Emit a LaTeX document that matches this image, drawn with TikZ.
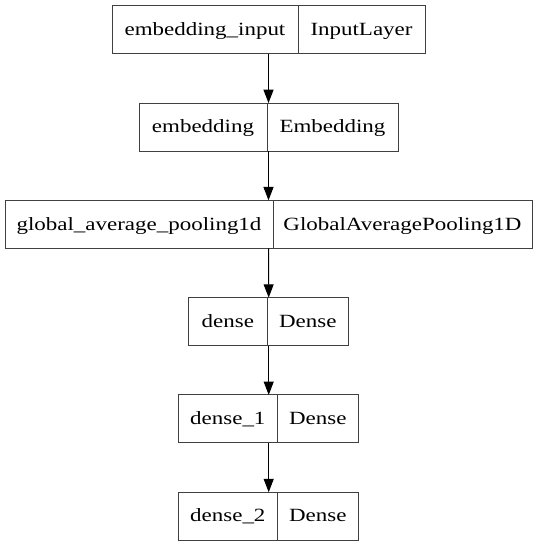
\documentclass[tikz,border=0pt]{standalone}
\usepackage{fontspec}
\setmainfont[FakeStretch=1.23]{Liberation Serif}
\usetikzlibrary{arrows.meta}
\definecolor{boxgray}{HTML}{404040}
\newcommand\mylayer[7]{%
  \pgfmathsetmacro\wl{(#3-#2)*0.75}%
  \pgfmathsetmacro\wr{(#4-#3)*0.75}%
  \pgfmathsetmacro\wt{(#4-#2)*0.75}%
  \node[whole, minimum width=\wt pt] (#1) at ({(#2+#4)/2},#5) {};
  \node[cell, minimum width=\wl pt] (#1a) at ({(#2+#3)/2},#5) {#6};
  \node[cell, minimum width=\wr pt] (#1b) at ({(#3+#4)/2},#5) {#7};
}
\begin{document}
\begin{tikzpicture}[x=0.75pt,y=-0.75pt,
  whole/.style={inner sep=0pt, outer sep=0pt, minimum height=36pt},
  cell/.style={draw=boxgray, line width=0.75pt, rectangle, inner sep=0pt, outer sep=0pt,
    minimum height=36pt, text height=11pt, text depth=2.4pt,
    font=\fontsize{14}{16}\selectfont},
  arr/.style={-{Triangle[length=10pt,width=7.5pt]}, line width=0.75pt, black}]
\useasboundingbox (0,0) rectangle (537,547);
\mylayer{l1}{112}{298}{425}{29.7}{embedding\_input}{InputLayer}
\mylayer{l2}{139}{267}{398}{127}{embedding}{Embedding}
\mylayer{l3}{5}{273}{532}{224.3}{global\_average\_pooling1d}{GlobalAveragePooling1D}
\mylayer{l4}{188.7}{267}{348.7}{321.6}{dense}{Dense}
\mylayer{l5}{178.7}{277}{358.7}{418.9}{dense\_1}{Dense}
\mylayer{l6}{178.7}{277}{358.7}{516.2}{dense\_2}{Dense}
\draw[arr] (l1.south) -- (l2.north);
\draw[arr] (l2.south) -- (l3.north);
\draw[arr] (l3.south) -- (l4.north);
\draw[arr] (l4.south) -- (l5.north);
\draw[arr] (l5.south) -- (l6.north);
\end{tikzpicture}
\end{document}
